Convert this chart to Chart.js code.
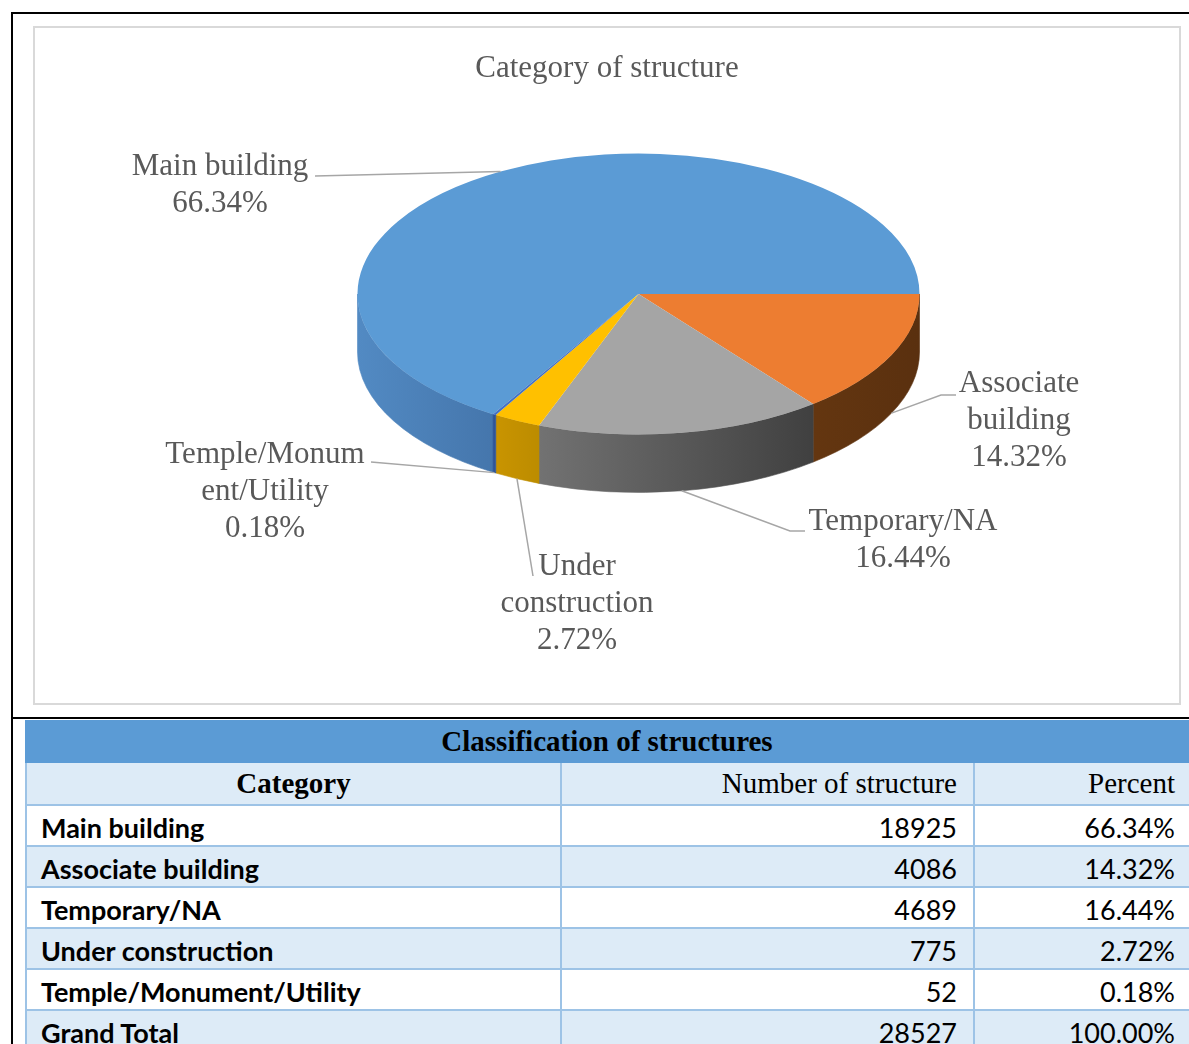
<!DOCTYPE html>
<html>
<head>
<meta charset="utf-8">
<script src="https://cdn.jsdelivr.net/npm/chart.js@4.4.0/dist/chart.umd.min.js"></script>
<style>
  body { margin: 0; width: 1189px; height: 1044px; overflow: hidden; position: relative; background: #fff; }
  .rule { position: absolute; background: #000; }
  #box { position: absolute; left: 33px; top: 26px; width: 1148px; height: 679px; border: 2px solid #d9d9d9; box-sizing: border-box; }
  #box canvas { position: absolute; left: 0; top: 0; }
  table { position: absolute; left: 25px; top: 720px; border-collapse: collapse; table-layout: fixed; width: 1172px; }
  td { border: 2px solid #9dc3e6; padding: 0 16px; white-space: nowrap; }
  td.pct { padding-right: 22px; }
  tr { height: 41px; }
  tr.title td { background: #5b9bd5; border-color: #5b9bd5; height: 39px; text-align: center;
    font: bold 29px "Liberation Serif", serif; color: #000; padding-right: 26px; }
  tr.head { height: 43px; }
  tr.head td { background: #ddebf7; font: 29px "Liberation Serif", serif; color: #000; text-align: right; }
  tr.head td.cat { font-weight: bold; text-align: center; }
  tr.row td { font: 27px Lato, "Open Sans", sans-serif; color: #000; text-align: right; padding-top: 3px; }
  tr.row td.cat { font-weight: bold; text-align: left; padding-left: 14px; }
  tr.row:nth-child(even) td { background: #ddebf7; }
</style>
</head>
<body>
<div class="rule" style="left:11px; top:12px; width:1178px; height:2px;"></div>
<div class="rule" style="left:11px; top:12px; width:2px; height:1032px;"></div>
<div class="rule" style="left:11px; top:717px; width:1178px; height:2px;"></div>
<div id="box"><canvas id="pie" width="1144" height="675"></canvas></div>
<table id="tbl">
  <colgroup><col style="width:535px"><col style="width:413px"><col style="width:224px"></colgroup>
  <tbody id="tbody"></tbody>
</table>
<script>
// Category of structure (counts of structures)
var categories = ['Main building', 'Associate building', 'Temporary/NA', 'Under construction', 'Temple/Monument/Utility'];
var structureCounts = [18925, 4086, 4689, 775, 52];
// how the chart wraps the category names
var chartLabelLines = [['Main building'], ['Associate', 'building'], ['Temporary/NA'], ['Under', 'construction'], ['Temple/Monum', 'ent/Utility']];

var topColors = ['#5b9bd5', '#ed7d31', '#a5a5a5', '#ffc000', '#4472c4'];
var sideColors = [['#528ac3', '#4576ac'], ['#643610', '#5a300f'], ['#727272', '#404040'], ['#c99400', '#bc8c00'], ['#2f5597', '#2f5597']];

var total = structureCounts.reduce(function (a, b) { return a + b; }, 0);
var percents = structureCounts.map(function (c) { return (c / total * 100).toFixed(2) + '%'; });

// label blocks (canvas px): first line centre, leader start, optional elbow
var labelSpots = [
    { x: 185, y: 139, from: [280, 148] },
    { x: 984, y: 356, from: [921, 367], elbow: [906, 367] },
    { x: 868, y: 494, from: [770, 503], elbow: [755, 503] },
    { x: 542, y: 539, from: [498, 548] },
    { x: 230, y: 427, from: [336, 434] }
];
var squash = 0.5;   // vertical tilt of the pie
var depth = 58;     // thickness of the pie
var labelFont = '31px "Liberation Serif", serif';

var pie3d = {
    id: 'pie3d',
    beforeDatasetsDraw: function (chart) {
        var ctx = chart.ctx;
        var arcs = chart.getDatasetMeta(0).data;
        var cx = arcs[0].x, cy = arcs[0].y, r = arcs[0].outerRadius;
        ctx.save();
        arcs.forEach(function (arc, i) {
            var s = arc.startAngle % (2 * Math.PI);
            if (s < 0) s += 2 * Math.PI;
            var e = s + (arc.endAngle - arc.startAngle);
            [[0, Math.PI], [2 * Math.PI, 3 * Math.PI]].forEach(function (win) {
                var a1 = Math.max(s, win[0]), a2 = Math.min(e, win[1]);
                if (a2 <= a1) return;
                var xr = cx + r * Math.cos(a1), xl = cx + r * Math.cos(a2);
                var g = ctx.createLinearGradient(xl, 0, xr + 0.01, 0);
                g.addColorStop(0, sideColors[i][0]);
                g.addColorStop(1, sideColors[i][1]);
                ctx.beginPath();
                ctx.ellipse(cx, cy, r, r * squash, 0, a1, a2, false);
                ctx.ellipse(cx, cy + depth, r, r * squash, 0, a2, a1, true);
                ctx.closePath();
                ctx.fillStyle = g;
                ctx.fill();
                ctx.strokeStyle = g;
                ctx.lineWidth = 0.6;
                ctx.stroke();
            });
        });
        ctx.restore();
        // top face: squash the library's circle into an ellipse
        ctx.save();
        ctx.translate(cx, cy);
        ctx.scale(1, squash);
        ctx.translate(-cx, -cy);
    },
    afterDatasetsDraw: function (chart) {
        chart.ctx.restore();
    },
    afterDraw: function (chart) {
        var ctx = chart.ctx;
        var arcs = chart.getDatasetMeta(0).data;
        ctx.save();
        ctx.fillStyle = '#595959';
        ctx.font = labelFont;
        ctx.textAlign = 'center';
        ctx.textBaseline = 'middle';
        ctx.fillText('Category of structure', chart.width / 2, 41);

        arcs.forEach(function (arc, i) {
            var mid = (arc.startAngle + arc.endAngle) / 2;
            var ex = arc.x + arc.outerRadius * Math.cos(mid);
            var ey = arc.y + arc.outerRadius * squash * Math.sin(mid);
            if (Math.sin(mid) > 0) ey += depth;
            var spot = labelSpots[i];
            ctx.beginPath();
            ctx.moveTo(spot.from[0], spot.from[1]);
            if (spot.elbow) ctx.lineTo(spot.elbow[0], spot.elbow[1]);
            ctx.lineTo(ex, ey);
            ctx.strokeStyle = '#a6a6a6';
            ctx.lineWidth = 1.5;
            ctx.stroke();

            var lines = chartLabelLines[i].concat([percents[i]]);
            ctx.fillStyle = '#595959';
            lines.forEach(function (t, k) {
                ctx.fillText(t, spot.x, spot.y + k * 37);
            });
        });
        ctx.restore();
    }
};

var ctx = document.getElementById('pie').getContext('2d');
var chart = new Chart(ctx, {
    type: 'pie',
    data: {
        labels: categories,
        datasets: [{
            data: structureCounts,
            backgroundColor: topColors,
            borderWidth: 0,
            radius: 281,
            clip: false
        }]
    },
    options: {
        responsive: false,
        animation: false,
        events: [],
        // first slice ends at 3 o'clock, as in the reference
        rotation: 90 - structureCounts[0] / total * 360,
        layout: { padding: { left: 63, right: 0, top: 63, bottom: 206 } },
        plugins: {
            legend: { display: false },
            tooltip: { enabled: false },
            title: { display: false }
        }
    },
    plugins: [pie3d]
});

// table under the chart
var tbody = document.getElementById('tbody');
var html = '<tr class="title"><td colspan="3">Classification of structures</td></tr>';
html += '<tr class="head"><td class="cat">Category</td><td>Number of structure</td><td class="pct">Percent</td></tr>';
categories.forEach(function (c, i) {
    html += '<tr class="row"><td class="cat">' + c + '</td><td>' + structureCounts[i] + '</td><td class="pct">' + percents[i] + '</td></tr>';
});
html += '<tr class="row"><td class="cat">Grand Total</td><td>' + total + '</td><td class="pct">100.00%</td></tr>';
tbody.innerHTML = html;
</script>
</body>
</html>
